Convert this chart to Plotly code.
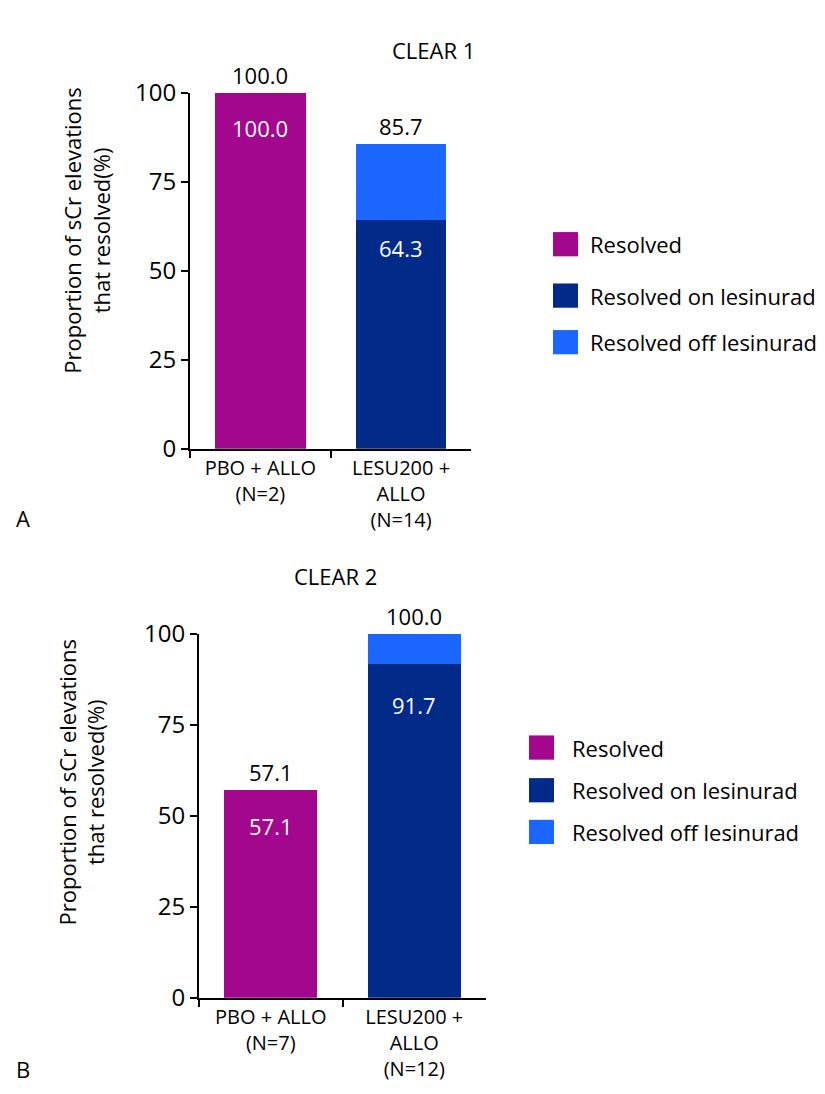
import plotly.graph_objects as go

# ---------------- data ----------------
categories_A = ["PBO + ALLO<br>(N=2)", "LESU200 +<br>ALLO<br>(N=14)"]
resolved_A = [100.0, None]
resolved_on_A = [None, 64.3]
resolved_off_A = [None, 21.4]
totals_A = [100.0, 85.7]
inner_A = [100.0, 64.3]

categories_B = ["PBO + ALLO<br>(N=7)", "LESU200 +<br>ALLO<br>(N=12)"]
resolved_B = [57.1, None]
resolved_on_B = [None, 91.7]
resolved_off_B = [None, 8.3]
totals_B = [57.1, 100.0]
inner_B = [57.1, 91.7]

series_names = ["Resolved", "Resolved on lesinurad", "Resolved off lesinurad"]
series_colors = ["#A2078D", "#022A88", "#1B66FF"]
y_ticks = [0, 25, 50, 75, 100]
titles = ["CLEAR 1", "CLEAR 2"]
panel_letters = ["A", "B"]
y_title = "Proportion of sCr elevations<br>that resolved(%)"

# ---------------- layout helpers ----------------
W, H = 825, 1094
FONT = "Open Sans"


def px(x):
    return x / W


def py(y):
    return 1 - y / H


fig = go.Figure()

panels = [
    dict(cats=categories_A, series=[resolved_A, resolved_on_A, resolved_off_A],
         totals=totals_A, inner=inner_A, inner_shift=[-35, -28], xa="x", ya="y"),
    dict(cats=categories_B, series=[resolved_B, resolved_on_B, resolved_off_B],
         totals=totals_B, inner=inner_B, inner_shift=[-36, -41], xa="x2", ya="y2"),
]

for p in panels:
    for name, color, vals in zip(series_names, series_colors, p["series"]):
        fig.add_trace(go.Bar(
            x=p["cats"], y=vals, name=name, marker_color=color,
            marker_line_width=0, width=0.645, showlegend=False,
            xaxis=p["xa"], yaxis=p["ya"], hoverinfo="skip",
        ))
    for c, t in zip(p["cats"], p["totals"]):
        fig.add_annotation(x=c, y=t, xref=p["xa"], yref=p["ya"], text=f"{t:.1f}",
                           showarrow=False, yshift=18, yanchor="middle",
                           font=dict(family=FONT, size=22, color="black"))
    for c, v, sh in zip(p["cats"], p["inner"], p["inner_shift"]):
        fig.add_annotation(x=c, y=v, xref=p["xa"], yref=p["ya"], text=f"{v:.1f}",
                           showarrow=False, yshift=sh, yanchor="middle",
                           font=dict(family=FONT, size=22, color="white"))

axis_common = dict(showline=True, linecolor="black", linewidth=2, ticks="outside",
                   tickcolor="black", tickwidth=2, ticklen=7, showgrid=False,
                   zeroline=False, fixedrange=True)

fig.update_layout(
    width=W, height=H, margin=dict(l=0, r=0, t=0, b=0),
    paper_bgcolor="white", plot_bgcolor="white", barmode="stack",
    font=dict(family=FONT, color="black"),
    xaxis=dict(domain=[px(182), px(463)], anchor="y", range=[-0.5, 1.497],
               tickson="boundaries", tickfont=dict(size=20), **axis_common),
    yaxis=dict(domain=[py(436), py(69)], anchor="x", range=[0, 100],
               tickvals=y_ticks, tickfont=dict(size=24), **axis_common),
    xaxis2=dict(domain=[px(191), px(478)], anchor="y2", range=[-0.5, 1.5],
                tickson="boundaries", tickfont=dict(size=20), **axis_common),
    yaxis2=dict(domain=[py(1002), py(627)], anchor="x2", range=[0, 100],
                tickvals=y_ticks, tickfont=dict(size=24), **axis_common),
)

# panel titles, y titles, panel letters
title_pos = [(425, 25), (327, 567)]
ytitle_pos = [(79, 211), (73, 780)]
letter_pos = [(15, 507), (15, 1075)]
for t, (tx, ty) in zip(titles, title_pos):
    fig.add_annotation(x=px(tx), y=py(ty), xref="paper", yref="paper", text=t,
                       showarrow=False, xanchor="center", yanchor="middle",
                       font=dict(family=FONT, size=22, color="black"))
for (tx, ty) in ytitle_pos:
    fig.add_annotation(x=px(tx), y=py(ty), xref="paper", yref="paper", text=y_title,
                       showarrow=False, xanchor="center", yanchor="middle",
                       textangle=-90, font=dict(family=FONT, size=22, color="black"))
for t, (tx, ty) in zip(panel_letters, letter_pos):
    fig.add_annotation(x=px(tx), y=py(ty), xref="paper", yref="paper", text=t,
                       showarrow=False, xanchor="center", yanchor="middle",
                       font=dict(family=FONT, size=22, color="black"))

# legends (one per panel)
legend_boxes = [
    dict(x0=545, size=25, text_x=580, rows=[225, 278, 326]),
    dict(x0=521, size=25, text_x=562, rows=[744, 788, 831]),
]
for lg in legend_boxes:
    for name, color, yc in zip(series_names, series_colors, lg["rows"]):
        s = lg["size"]
        fig.add_shape(type="rect", xref="paper", yref="paper",
                      x0=px(lg["x0"]), x1=px(lg["x0"] + s),
                      y0=py(yc + s / 2), y1=py(yc - s / 2),
                      fillcolor=color, line=dict(width=0))
        fig.add_annotation(x=px(lg["text_x"]), y=py(yc), xref="paper", yref="paper",
                           text=name, showarrow=False, xanchor="left", yanchor="middle",
                           font=dict(family=FONT, size=22, color="black"))

fig.write_html("out.html")
